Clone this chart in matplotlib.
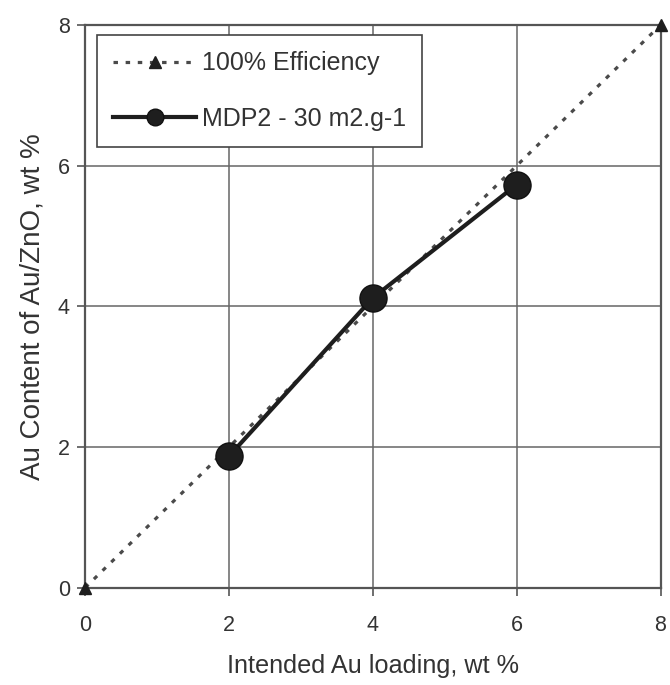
import matplotlib
matplotlib.use("Agg")
import matplotlib.pyplot as plt

# Ideal deposition line (100% efficiency)
ideal_x = [0, 8]
ideal_y = [0, 8]

# Measured Au content for MDP2 support
mdp2_x = [2, 4, 6]
mdp2_y = [1.87, 4.12, 5.73]

x_ticks = [0, 2, 4, 6, 8]
y_ticks = [0, 2, 4, 6, 8]

plt.rcParams['font.family'] = ['Liberation Sans', 'DejaVu Sans']
text_color = '#333333'

fig = plt.figure(figsize=(6.7, 6.85), dpi=100)
ax = fig.add_axes([0.1272, 0.1422, 0.8587, 0.8213])

ax.plot(ideal_x, ideal_y, linestyle=(0, (1.4, 2.4)), color='#4a4a4a', linewidth=2.3,
        marker='^', markersize=8, markerfacecolor='#1e1e1e', markeredgecolor='#1e1e1e',
        label='100% Efficiency', clip_on=False, zorder=3)
ax.plot(mdp2_x, mdp2_y, linestyle='-', color='#1e1e1e', linewidth=3.0,
        marker='o', markersize=19.5, markerfacecolor='#1e1e1e', markeredgecolor='#111111',
        label='MDP2 - 30 m2.g-1', zorder=4)

ax.set_xlim(0, 8)
ax.set_ylim(0, 8)
ax.set_xticks(x_ticks)
ax.set_yticks(y_ticks)
ax.tick_params(direction='out', length=6, width=1.2, colors='#555555',
               labelcolor=text_color, labelsize=15.5)
ax.tick_params(axis='x', pad=14)
ax.tick_params(axis='y', pad=5)
ax.grid(True, color='#666666', linewidth=1.1)
ax.set_axisbelow(True)
for s in ax.spines.values():
    s.set_color('#555555')
    s.set_linewidth(1.6)

ax.set_xlabel('Intended Au loading, wt %', fontsize=18.2, color=text_color, labelpad=13)
ax.set_ylabel('Au Content of Au/ZnO, wt %', fontsize=20, color=text_color, labelpad=9)

leg = ax.legend(loc='upper left', bbox_to_anchor=(0.0205, 0.982), borderaxespad=0,
                fontsize=18, frameon=True, fancybox=False, edgecolor='#444444',
                framealpha=1, handlelength=3.3, labelspacing=1.25, borderpad=0.65,
                handletextpad=0.25)
leg.get_frame().set_linewidth(1.2)
for t in leg.get_texts():
    t.set_color(text_color)
leg.legend_handles[0].set_markersize(9)
leg.legend_handles[1].set_markersize(12)

fig.savefig('out.png', dpi=100, facecolor='white')
